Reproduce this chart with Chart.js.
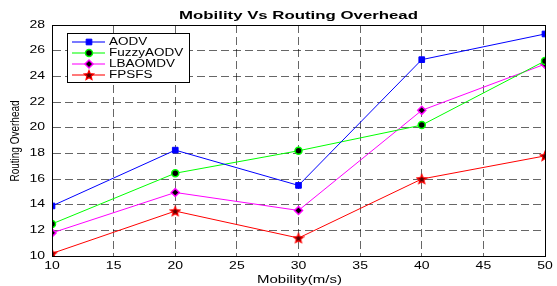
<!DOCTYPE html>
<html>
<head>
<meta charset="utf-8">
<script src="https://cdn.jsdelivr.net/npm/chart.js@4"></script>
<style>
  html, body { margin: 0; padding: 0; background: #fff; }
  #wrap { width: 557px; height: 286px; }
</style>
</head>
<body>
<div id="wrap"><canvas id="chart" width="557" height="286"></canvas></div>
<script>
// data
const mobility = [10, 20, 30, 40, 50];
const aodv = [13.9, 18.25, 15.5, 25.3, 27.3];
const fuzzyAodv = [12.5, 16.45, 18.2, 20.2, 25.2];
const lbaomdv = [11.8, 14.95, 13.55, 21.35, 24.95];
const fpsfs = [10.2, 13.5, 11.4, 16.0, 17.8];
const seriesNames = ['AODV', 'FuzzyAODV', 'LBAOMDV', 'FPSFS'];

const font = "'Liberation Sans', Arial, sans-serif";

// the original picture is stretched sideways, so text is drawn with a x-scale
// (applied on screen x, also for rotated text)
function stretchText(ctx, text, x, y, size, sx, opts = {}) {
  ctx.save();
  ctx.translate(x, y);
  ctx.scale(sx, 1);
  if (opts.rotate) ctx.rotate(opts.rotate);
  ctx.font = (opts.bold ? 'bold ' : '') + size + 'px ' + font;
  ctx.textAlign = opts.align || 'center';
  ctx.textBaseline = 'middle';
  ctx.fillStyle = '#000';
  ctx.fillText(text, 0, 0);
  ctx.restore();
}

// little red star marker
function makeStar(size, stroke, fill) {
  const c = document.createElement('canvas');
  c.width = size; c.height = size;
  const ctx = c.getContext('2d');
  const cx = size / 2, cy = size / 2 + 0.5, R = size / 2 - 1, r = R * 0.45;
  ctx.beginPath();
  for (let i = 0; i < 10; i++) {
    const a = -Math.PI / 2 + i * Math.PI / 5;
    const rad = i % 2 ? r : R;
    ctx.lineTo(cx + rad * Math.cos(a), cy + rad * Math.sin(a));
  }
  ctx.closePath();
  ctx.fillStyle = fill; ctx.fill();
  ctx.strokeStyle = stroke; ctx.lineWidth = 1.2; ctx.stroke();
  return c;
}
const starImg = makeStar(12, '#ff0000', '#550000');

const toPts = arr => arr.map((v, i) => ({x: mobility[i], y: v}));

const datasets = [
  {label: seriesNames[0], data: toPts(aodv), borderColor: '#0000ff', backgroundColor: '#0000ff',
   pointStyle: 'rect', pointRadius: 4, pointBorderColor: '#0000ff', pointBackgroundColor: '#0000ff'},
  {label: seriesNames[1], data: toPts(fuzzyAodv), borderColor: '#00ff00', backgroundColor: '#000',
   pointStyle: 'circle', pointRadius: 3.5, pointBorderColor: '#00ff00', pointBorderWidth: 1.5, pointBackgroundColor: '#000'},
  {label: seriesNames[2], data: toPts(lbaomdv), borderColor: '#ff00ff', backgroundColor: '#000',
   pointStyle: 'rectRot', pointRadius: 4, pointBorderColor: '#ff00ff', pointBorderWidth: 1.5, pointBackgroundColor: '#000'},
  {label: seriesNames[3], data: toPts(fpsfs), borderColor: '#ff0000', backgroundColor: '#ff0000',
   pointStyle: starImg, pointRadius: 6}
];
datasets.forEach(d => { d.borderWidth = 1; d.tension = 0; d.fill = false; });

// frame, texts and legend box
const extras = {
  id: 'extras',
  afterDraw(chart) {
    const ctx = chart.ctx;
    const a = chart.chartArea;
    const xs = chart.scales.x, ys = chart.scales.y;
    ctx.save();
    ctx.strokeStyle = '#000';
    ctx.lineWidth = 1;
    ctx.strokeRect(a.left + 0.5, a.top + 0.5, a.right - a.left, a.bottom - a.top);

    stretchText(ctx, 'Mobility Vs Routing Overhead', (a.left + a.right) / 2, 16, 10.5, 1.6, {bold: true});
    stretchText(ctx, 'Mobility(m/s)', (a.left + a.right) / 2 + 1, 280, 10, 1.5);
    stretchText(ctx, 'Routing Overhead', 15, 141, 10, 1.3, {rotate: -Math.PI / 2});

    xs.ticks.forEach(t => stretchText(ctx, String(t.value), xs.getPixelForValue(t.value), 266.5, 10, 1.4));
    ys.ticks.forEach(t => stretchText(ctx, String(t.value), 45, ys.getPixelForValue(t.value), 10, 1.4, {align: 'right'}));

    // legend
    const lx = 67, ly = 33, lw = 122, lh = 49;
    ctx.fillStyle = '#fff';
    ctx.fillRect(lx, ly, lw, lh);
    ctx.strokeStyle = '#000';
    ctx.lineWidth = 1;
    ctx.strokeRect(lx + 0.5, ly + 0.5, lw, lh);
    chart.data.datasets.forEach((d, i) => {
      const y = ly + 9 + i * 11;
      ctx.strokeStyle = d.borderColor;
      ctx.lineWidth = 1.5;
      ctx.globalAlpha = 0.7;
      ctx.beginPath(); ctx.moveTo(72, y); ctx.lineTo(105, y); ctx.stroke();
      ctx.globalAlpha = 1;
      const opts = {pointStyle: d.pointStyle, radius: d.pointRadius, borderWidth: d.pointBorderWidth || 1, rotation: 0};
      ctx.fillStyle = d.pointBackgroundColor || d.backgroundColor;
      ctx.strokeStyle = d.pointBorderColor || d.borderColor;
      ctx.lineWidth = d.pointBorderWidth || 1;
      Chart.helpers.drawPoint(ctx, opts, 89, y);
      stretchText(ctx, d.label, 109, y + 0.5, 10, 1.35, {align: 'left'});
    });
    ctx.restore();
  }
};

new Chart('chart', {
  type: 'line',
  data: {datasets: datasets},
  plugins: [extras],
  options: {
    responsive: false,
    animation: false,
    layout: {padding: {top: 25, right: 12, left: 0, bottom: 0}},
    plugins: {legend: {display: false}, tooltip: {enabled: false}},
    scales: {
      x: {
        type: 'linear', min: 10, max: 50,
        afterFit: s => { s.height = 30; },
        ticks: {stepSize: 5, display: false},
        grid: {color: 'rgba(0,0,0,0.6)', drawTicks: false, lineWidth: 1},
        border: {display: true, color: '#000', dash: [8, 4]}
      },
      y: {
        min: 10, max: 28,
        afterFit: s => { s.width = 52; },
        ticks: {stepSize: 2, display: false},
        grid: {color: 'rgba(0,0,0,0.6)', drawTicks: false, lineWidth: 1},
        border: {display: true, color: '#000', dash: [8, 4]}
      }
    }
  }
});
</script>
</body>
</html>
